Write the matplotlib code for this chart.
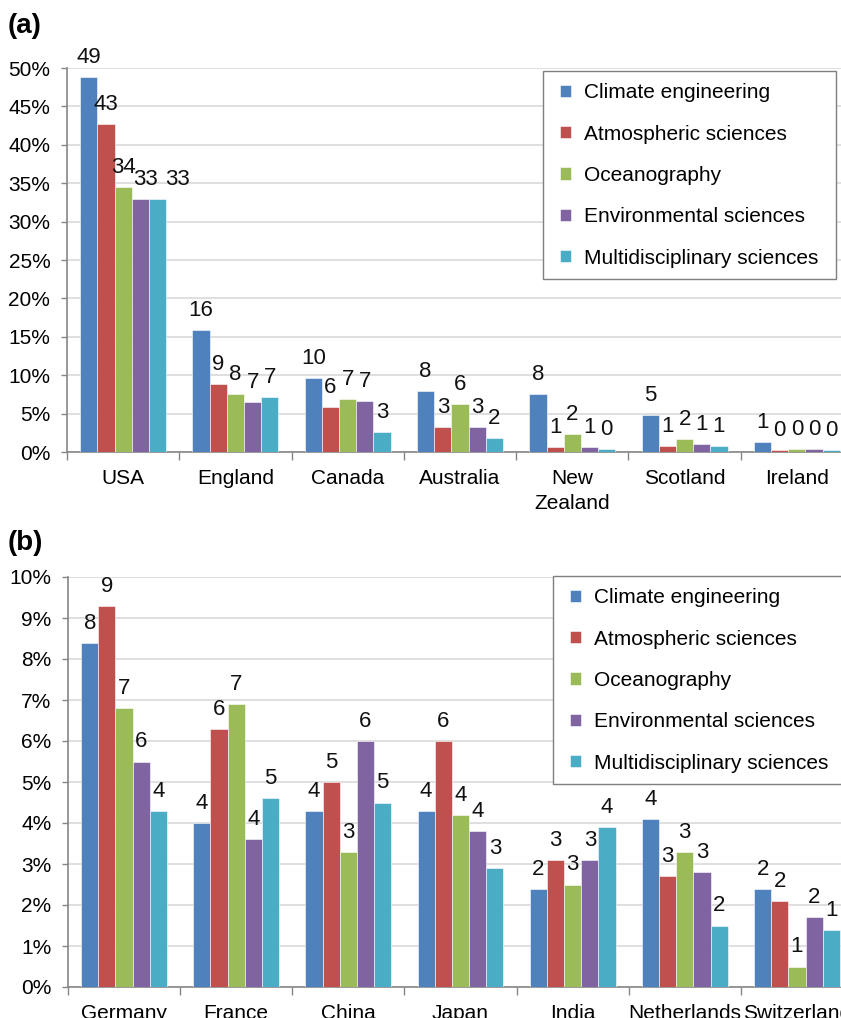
import numpy as np
import matplotlib
matplotlib.use("Agg")
import matplotlib.pyplot as plt
from matplotlib.patches import Rectangle
from matplotlib.transforms import IdentityTransform
from matplotlib.ticker import FixedLocator, FuncFormatter

plt.rcParams['font.family'] = ['Liberation Sans', 'DejaVu Sans']

series = ['Climate engineering', 'Atmospheric sciences', 'Oceanography',
          'Environmental sciences', 'Multidisciplinary sciences']
colors = ['#4F81BD', '#C0504D', '#9BBB59', '#8064A2', '#4BACC6']

# panel (a)
countries_a = ['USA', 'England', 'Canada', 'Australia', 'New\nZealand', 'Scotland', 'Ireland']
climate_a = [48.8, 15.9, 9.6, 8.0, 7.5, 4.8, 1.3]
atmos_a = [42.7, 8.8, 5.8, 3.3, 0.7, 0.8, 0.3]
ocean_a = [34.5, 7.6, 6.9, 6.3, 2.4, 1.7, 0.4]
environ_a = [32.9, 6.5, 6.6, 3.2, 0.7, 1.0, 0.4]
multi_a = [33.0, 7.2, 2.6, 1.8, 0.4, 0.8, 0.2]
labels_a = [[49, 16, 10, 8, 8, 5, 1],
            [43, 9, 6, 3, 1, 1, 0],
            [34, 8, 7, 6, 2, 2, 0],
            [33, 7, 7, 3, 1, 1, 0],
            [33, 7, 3, 2, 0, 1, 0]]

# panel (b)
countries_b = ['Germany', 'France', 'China', 'Japan', 'India', 'Netherlands', 'Switzerland']
climate_b = [8.4, 4.0, 4.3, 4.3, 2.4, 4.1, 2.4]
atmos_b = [9.3, 6.3, 5.0, 6.0, 3.1, 2.7, 2.1]
ocean_b = [6.8, 6.9, 3.3, 4.2, 2.5, 3.3, 0.5]
environ_b = [5.5, 3.6, 6.0, 3.8, 3.1, 2.8, 1.7]
multi_b = [4.3, 4.6, 4.5, 2.9, 3.9, 1.5, 1.4]
labels_b = [[8, 4, 4, 4, 2, 4, 2],
            [9, 6, 5, 6, 3, 3, 2],
            [7, 7, 3, 4, 3, 3, 1],
            [6, 4, 6, 4, 3, 3, 2],
            [4, 5, 5, 3, 4, 2, 1]]

W, H = 841, 1018
fig = plt.figure(figsize=(W / 100, H / 100), dpi=100)

grid_c = '#D9D9D9'
axis_c = '#868686'


def draw(ax, cats, data, labels, ymax, ystep, legend_px, shifts=None):
    x = np.arange(len(cats))
    bw = 0.153
    shifts = shifts or {}
    for i, vals in enumerate(data):
        pos = x + (i - 2) * bw
        bars = ax.bar(pos, vals, bw, color=colors[i], label=series[i],
                      edgecolor='white', linewidth=0.4, zorder=3)
        for j, (b, lab) in enumerate(zip(bars, labels[i])):
            dx = shifts.get((i, j), 0)
            ax.annotate(str(lab), (b.get_x() + b.get_width() / 2, b.get_height()),
                        xytext=(dx, 6.5), textcoords='offset points',
                        ha='center', va='bottom', fontsize=16, color='#111111',
                        zorder=4)
    ax.set_xlim(-0.5, len(cats) - 0.5)
    ax.set_ylim(0, ymax)
    ax.yaxis.set_major_locator(FixedLocator(np.arange(0, ymax + 0.01, ystep)))
    ax.yaxis.set_major_formatter(FuncFormatter(lambda v, p: '%d%%' % round(v)))
    ax.yaxis.grid(True, color=grid_c, linewidth=1.2, zorder=0)
    ax.set_xticks(x)
    ax.set_xticklabels(cats, fontsize=15, linespacing=1.35)
    ax.xaxis.set_minor_locator(FixedLocator(np.arange(-0.5, len(cats), 1.0)))
    ax.tick_params(axis='x', which='major', length=0, pad=12.5)
    ax.tick_params(axis='x', which='minor', length=6, color=axis_c, width=1)
    ax.tick_params(axis='y', length=4.5, color=axis_c, labelsize=15, pad=7.5, width=1)
    for s in ['top', 'right']:
        ax.spines[s].set_visible(False)
    for s in ['left', 'bottom']:
        ax.spines[s].set_color(axis_c)
        ax.spines[s].set_linewidth(1.2)

    # legend, with an Excel-like frame that is wider than it is tall
    padx = 7
    lx, ly = legend_px
    leg = ax.legend(loc='upper left', bbox_to_anchor=((lx + padx) / W, 1 - (ly + 2) / H),
                    bbox_transform=fig.transFigure, fontsize=15, frameon=False,
                    handlelength=0.53, handleheight=0.53, handletextpad=0.6,
                    labelspacing=1.07, borderpad=0.5, borderaxespad=0)
    leg.set_zorder(6)
    fig.canvas.draw()
    bb = leg.get_window_extent()
    ax.add_patch(Rectangle((bb.x0 - padx, bb.y0 - 1), bb.width + 2 * padx, bb.height + 3,
                           transform=IdentityTransform(), facecolor='white',
                           edgecolor='#7F7F7F', linewidth=1.0, zorder=5,
                           clip_on=False))


ax1 = fig.add_axes([67 / W, 566 / H, 786 / W, 384 / H])
draw(ax1, countries_a, [climate_a, atmos_a, ocean_a, environ_a, multi_a],
     labels_a, 50, 5, (543, 71), shifts={(3, 0): 3.6, (4, 0): 14.4})

ax2 = fig.add_axes([68 / W, 31 / H, 785 / W, 410 / H])
draw(ax2, countries_b, [climate_b, atmos_b, ocean_b, environ_b, multi_b],
     labels_b, 10, 1, (553, 576))

fig.text(8 / W, 1 - 26 / H, '(a)', fontsize=20, fontweight='bold', va='center')
fig.text(8 / W, 1 - 543 / H, '(b)', fontsize=20, fontweight='bold', va='center')

fig.savefig('out.png', dpi=100)
